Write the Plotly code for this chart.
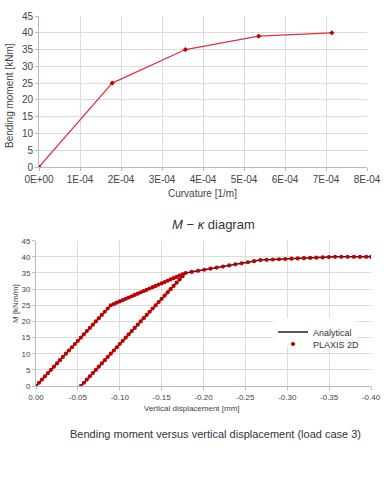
import plotly.graph_objects as go

# ---- Top chart: M - kappa diagram ----
curvature = [0.0, 1.786e-4, 3.571e-4, 5.357e-4, 7.143e-4]
moment = [0, 25, 35, 39, 40]
top_xticks = [0, 1e-4, 2e-4, 3e-4, 4e-4, 5e-4, 6e-4, 7e-4, 8e-4]
top_xtext = ["0E+00", "1E-04", "2E-04", "3E-04", "4E-04", "5E-04", "6E-04", "7E-04", "8E-04"]
yticks = [0, 5, 10, 15, 20, 25, 30, 35, 40, 45]

# ---- Bottom chart: bending moment vs vertical displacement ----
analytical_disp = [0.0, -0.0893, -0.1786, -0.0536, -0.1786, -0.2679, -0.3571, -0.40]
analytical_M = [0, 25, 35, 0, 35, 39, 40, 40]

plaxis_disp = [
    0.0, -0.0036, -0.0071, -0.0107, -0.0143, -0.0179, -0.0214, -0.0250, -0.0286, -0.0321,
    -0.0357, -0.0393, -0.0429, -0.0464, -0.0500, -0.0536, -0.0571, -0.0607, -0.0643, -0.0679,
    -0.0714, -0.0750, -0.0786, -0.0821, -0.0857, -0.0893,
    -0.0929, -0.0964, -0.1000, -0.1036, -0.1072, -0.1107, -0.1143, -0.1179, -0.1214, -0.1250,
    -0.1286, -0.1322, -0.1357, -0.1393, -0.1429, -0.1465, -0.1500, -0.1536, -0.1572, -0.1607,
    -0.1643, -0.1679, -0.1714, -0.1750, -0.1786,
    -0.1750, -0.1715, -0.1679, -0.1643, -0.1607, -0.1572, -0.1536, -0.1500, -0.1465, -0.1429,
    -0.1393, -0.1357, -0.1322, -0.1286, -0.1250, -0.1215, -0.1179, -0.1143, -0.1107, -0.1072,
    -0.1036, -0.1000, -0.0965, -0.0929, -0.0893, -0.0857, -0.0822, -0.0786, -0.0750, -0.0715,
    -0.0679, -0.0643, -0.0607, -0.0572, -0.0536,
    -0.1860, -0.1935, -0.2009, -0.2083, -0.2158, -0.2232, -0.2307, -0.2381, -0.2455, -0.2530,
    -0.2604, -0.2679, -0.2753, -0.2827, -0.2902, -0.2976, -0.3051, -0.3125, -0.3199, -0.3274,
    -0.3348, -0.3423, -0.3497, -0.3571, -0.3646, -0.3720, -0.3795, -0.3869, -0.3943, -0.4000,
]
plaxis_M = [
    0, 1, 2, 3, 4, 5, 6, 7, 8, 9,
    10, 11, 12, 13, 14, 15, 16, 17, 18, 19,
    20, 21, 22, 23, 24, 25,
    25.4, 25.8, 26.2, 26.6, 27.0, 27.4, 27.8, 28.2, 28.6, 29.0,
    29.4, 29.8, 30.2, 30.6, 31.0, 31.4, 31.8, 32.2, 32.6, 33.0,
    33.4, 33.8, 34.2, 34.6, 35.0,
    34, 33, 32, 31, 30, 29, 28, 27, 26, 25,
    24, 23, 22, 21, 20, 19, 18, 17, 16, 15,
    14, 13, 12, 11, 10, 9, 8, 7, 6, 5,
    4, 3, 2, 1, 0,
    35.33, 35.67, 36.0, 36.33, 36.67, 37.0, 37.33, 37.67, 38.0, 38.33,
    38.67, 39.0, 39.08, 39.17, 39.25, 39.33, 39.42, 39.5, 39.58, 39.67,
    39.75, 39.83, 39.92, 40.0, 40.0, 40.0, 40.0, 40.0, 40.0, 40.0,
]
bot_xticks = [0, -0.05, -0.10, -0.15, -0.20, -0.25, -0.30, -0.35, -0.40]
bot_xtext = ["0.00", "-0.05", "-0.10", "-0.15", "-0.20", "-0.25", "-0.30", "-0.35", "-0.40"]

W, H = 384, 480
def px(x):
    return x / W
def py(y):
    return 1 - y / H

FONT = "Liberation Sans, Arial, sans-serif"
GRID = "#dcdcdc"
TICKC = "#444444"

fig = go.Figure()

fig.add_trace(go.Scatter(
    x=curvature, y=moment, mode="lines+markers",
    line=dict(color="#e2313b", width=1.2),
    marker=dict(color="#cc0000", size=4, symbol="diamond"),
    xaxis="x", yaxis="y", showlegend=False,
))

fig.add_trace(go.Scatter(
    x=analytical_disp, y=analytical_M, mode="lines", name="Analytical",
    line=dict(color="#222222", width=1.5),
    xaxis="x2", yaxis="y2", legend="legend",
))
fig.add_trace(go.Scatter(
    x=plaxis_disp, y=plaxis_M, mode="markers", name="PLAXIS 2D",
    marker=dict(color="#c00000", size=4.2, symbol="circle", line=dict(width=0)),
    xaxis="x2", yaxis="y2", legend="legend2",
))

axis_common = dict(
    showgrid=True, gridcolor=GRID, gridwidth=1, zeroline=False,
    showline=True, linecolor="#bbbbbb", linewidth=1,
    ticks="outside", ticklen=3, tickcolor="#bbbbbb", automargin=False,
    tickfont=dict(family=FONT, size=10, color=TICKC),
)

fig.update_layout(
    width=W, height=H,
    margin=dict(l=0, r=0, t=0, b=0, autoexpand=False),
    paper_bgcolor="white", plot_bgcolor="white",
    font=dict(family=FONT, color=TICKC),
    xaxis=dict(domain=[px(39), px(367)], range=[0, 8e-4], tickvals=top_xticks,
               ticktext=top_xtext, anchor="y", **axis_common),
    yaxis=dict(domain=[py(167), py(16)], range=[0, 45], tickvals=yticks,
               anchor="x", **axis_common),
    xaxis2=dict(domain=[px(36), px(371)], range=[0, -0.40], tickvals=bot_xticks,
                ticktext=bot_xtext, anchor="y2",
                **{**axis_common, "tickfont": dict(family=FONT, size=8, color=TICKC)}),
    yaxis2=dict(domain=[py(386), py(240.7)], range=[0, 45], tickvals=yticks,
                anchor="x2",
                **{**axis_common, "tickfont": dict(family=FONT, size=8, color=TICKC)}),
    legend=dict(x=px(273), y=py(332), xanchor="left", yanchor="middle",
                bgcolor="white", font=dict(family=FONT, size=9, color="#333333"),
                itemwidth=30),
    legend2=dict(x=px(273), y=py(344), xanchor="left", yanchor="middle",
                 bgcolor="rgba(255,255,255,0)", font=dict(family=FONT, size=9, color="#333333"),
                 itemwidth=30),
)

ann = [
    dict(text="Curvature [1/m]", x=px(202), y=py(193), font=dict(size=10)),
    dict(text="Bending moment [kNm]", x=px(10), y=py(96), textangle=-90, font=dict(size=10)),
    dict(text="<i>M</i> − <i>κ</i> diagram", x=px(213), y=py(224), font=dict(size=13, color="#333333")),
    dict(text="M [kNm/m]", x=px(15), y=py(304), textangle=-90, font=dict(size=8)),
    dict(text="Vertical displacement [mm]", x=px(192), y=py(408), font=dict(size=8)),
    dict(text="Bending moment versus vertical displacement (load case 3)", x=px(215), y=py(434),
         font=dict(size=11, color="#333333")),
]
for a in ann:
    a.update(xref="paper", yref="paper", showarrow=False, xanchor="center", yanchor="middle")
    a["font"] = dict(family=FONT, color=a["font"].get("color", TICKC), size=a["font"]["size"])
fig.update_layout(annotations=ann)

fig.write_html("out.html", config={"displayModeBar": False},
               post_script="document.body.style.margin='0';document.body.style.overflow='hidden';")
